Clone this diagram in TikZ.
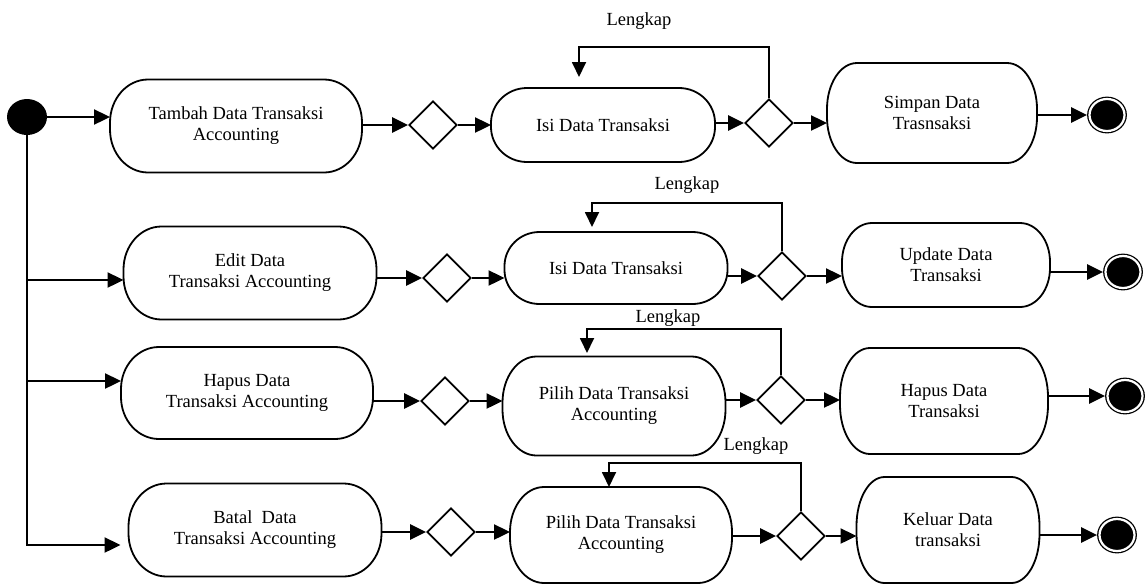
\documentclass[tikz,border=0pt]{standalone}
\usepackage{fontspec}
\setmainfont{Liberation Serif}
\usetikzlibrary{arrows.meta,shapes.geometric}

\begin{document}
\begin{tikzpicture}[x=1pt,y=-1pt,font=\fontsize{18.5}{21}\selectfont,
    aktivitas/.style={rectangle,align=center,inner sep=2pt,outer sep=0pt},
    garis/.style={line width=1.8pt},
    keputusan/.style={draw,diamond,line width=1.8pt,minimum width=48pt,minimum height=48pt,inner sep=0pt},
    awal/.style={ellipse,fill=black,minimum width=40pt,minimum height=36pt,inner sep=0pt},
    akhir/.style={ellipse,draw,fill=black,double=white,double distance=2.2pt,line width=1.3pt,minimum width=35pt,minimum height=32pt,inner sep=0pt,outer sep=2.4pt},
    alur/.style={line width=2.4pt,-{Triangle[length=16pt,width=15pt]}},
    ulang/.style={line width=1.8pt,-{Triangle[length=15pt,width=14pt]}}]
            \useasboundingbox (0,0) rectangle (1146,587);
            \node[awal] (mulai) at (27,117) {};
            \node[aktivitas,minimum width=252pt,minimum height=93pt] (tambah) at (236,126) {Tambah Data Transaksi\\Accounting};
            \node[keputusan] (k1a) at (433,125) {};
            \node[aktivitas,minimum width=224pt,minimum height=74pt] (isi1) at (603,125) {Isi Data Transaksi};
            \node[keputusan] (k1b) at (769,123) {};
            \node[aktivitas,minimum width=210pt,minimum height=100pt] (simpan) at (932,113) {Simpan Data\\Trasnsaksi};
            \node[akhir] (selesai1) at (1107,115) {};
            \node (lengkap1) at (639,21) {Lengkap};
            \coordinate (u1) at (579,77);
            \draw[alur] (mulai) -- (mulai -| tambah.west);
            \draw[alur] (tambah.east |- k1a) -- (k1a.west);
            \draw[alur] (k1a) -- (k1a -| isi1.west);
            \draw[alur] (isi1.east |- k1b) -- (k1b.west);
            \draw[alur] (k1b) -- (k1b -| simpan.west);
            \draw[alur] (simpan.east |- selesai1) -- (selesai1);
            \draw[ulang] (k1b.north) |- ([yshift=30pt]u1) -- (u1);

            \node[aktivitas,minimum width=253pt,minimum height=93pt] (edit) at (250,273) {Edit Data\\Transaksi Accounting};
            \node[keputusan] (k2a) at (447,278) {};
            \node[aktivitas,minimum width=223pt,minimum height=72pt] (isi2) at (616,268) {Isi Data Transaksi};
            \node[keputusan] (k2b) at (782,276) {};
            \node[aktivitas,minimum width=208pt,minimum height=84pt] (update) at (946,265) {Update Data\\Transaksi};
            \node[akhir] (selesai2) at (1123,272) {};
            \node (lengkap2) at (687,185) {Lengkap};
            \coordinate (u2) at (592,227);
            \draw[alur] ([yshift=-7pt]edit.west -| mulai.south) -- ([yshift=-7pt]edit.west);
            \draw[alur] (edit.east |- k2a) -- (k2a.west);
            \draw[alur] (k2a) -- (k2a -| isi2.west);
            \draw[alur] (isi2.east |- k2b) -- (k2b.west);
            \draw[alur] (k2b) -- (k2b -| update.west);
            \draw[alur] (update.east |- selesai2) -- (selesai2);
            \draw[ulang] (k2b.north) |- ([yshift=24pt]u2) -- (u2);

            \node[aktivitas,minimum width=252pt,minimum height=92pt] (hapus) at (247,393) {Hapus Data\\Transaksi Accounting};
            \node[keputusan] (k3a) at (445,401) {};
            \node[aktivitas,minimum width=223pt,minimum height=99pt] (pilih3) at (614,406) {Pilih Data Transaksi\\Accounting};
            \node[keputusan] (k3b) at (781,400) {};
            \node[aktivitas,minimum width=208pt,minimum height=106pt] (hapusdata) at (944,401) {Hapus Data\\Transaksi};
            \node[akhir] (selesai3) at (1125,396) {};
            \node (lengkap3) at (668,318) {Lengkap};
            \coordinate (u3) at (587,353);
            \draw[alur] ([yshift=12pt]hapus.west -| mulai.south) -- ([yshift=12pt]hapus.west);
            \draw[alur] (hapus.east |- k3a) -- (k3a.west);
            \draw[alur] (k3a) -- (k3a -| pilih3.west);
            \draw[alur] (pilih3.east |- k3b) -- (k3b.west);
            \draw[alur] (k3b) -- (k3b -| hapusdata.west);
            \draw[alur] (hapusdata.east |- selesai3) -- (selesai3);
            \draw[ulang] (k3b.north) |- ([yshift=24pt]u3) -- (u3);

            \node[aktivitas,minimum width=253pt,minimum height=93pt] (batal) at (255,530) {Batal\ \ Data\\Transaksi Accounting};
            \node[keputusan] (k4a) at (451,532) {};
            \node[aktivitas,minimum width=222pt,minimum height=96pt] (pilih4) at (621,535) {Pilih Data Transaksi\\Accounting};
            \node[keputusan] (k4b) at (801,536) {};
            \node[aktivitas,minimum width=183pt,minimum height=106pt] (keluar) at (948,530) {Keluar Data\\transaksi};
            \node[akhir] (selesai4) at (1117,535) {};
            \node (lengkap4) at (756,446) {Lengkap};
            \coordinate (u4) at (609,487);
            \draw[alur] (mulai.south) |- ([xshift=-8pt,yshift=-15pt]batal.west);
            \draw[alur] (batal.east |- k4a) -- (k4a.west);
            \draw[alur] (k4a) -- (k4a -| pilih4.west);
            \draw[alur] (pilih4.east |- k4b) -- (k4b.west);
            \draw[alur] (k4b) -- (k4b -| keluar.west);
            \draw[alur] (keluar.east |- selesai4) -- (selesai4);
            \draw[ulang] (k4b.north) |- ([yshift=24pt]u4) -- (u4);

            \foreach \n/\rx/\ry in {tambah/38/43,isi1/36/35,simpan/30/46,edit/38/43,isi2/35/34,update/30/39,
                hapus/38/42,pilih3/34/46,hapusdata/30/49,batal/38/43,pilih4/34/45,keluar/28/49}
                \draw[garis] ([xshift=\rx pt]\n.north west) -- ([xshift=-\rx pt]\n.north east)
                    arc[start angle=90,end angle=0,x radius=\rx pt,y radius=\ry pt]
                    -- ([yshift=\ry pt]\n.south east)
                    arc[start angle=0,end angle=-90,x radius=\rx pt,y radius=\ry pt]
                    -- ([xshift=\rx pt]\n.south west)
                    arc[start angle=-90,end angle=-180,x radius=\rx pt,y radius=\ry pt]
                    -- ([yshift=-\ry pt]\n.north west)
                    arc[start angle=180,end angle=90,x radius=\rx pt,y radius=\ry pt] -- cycle;
        \end{tikzpicture}
\end{document}
